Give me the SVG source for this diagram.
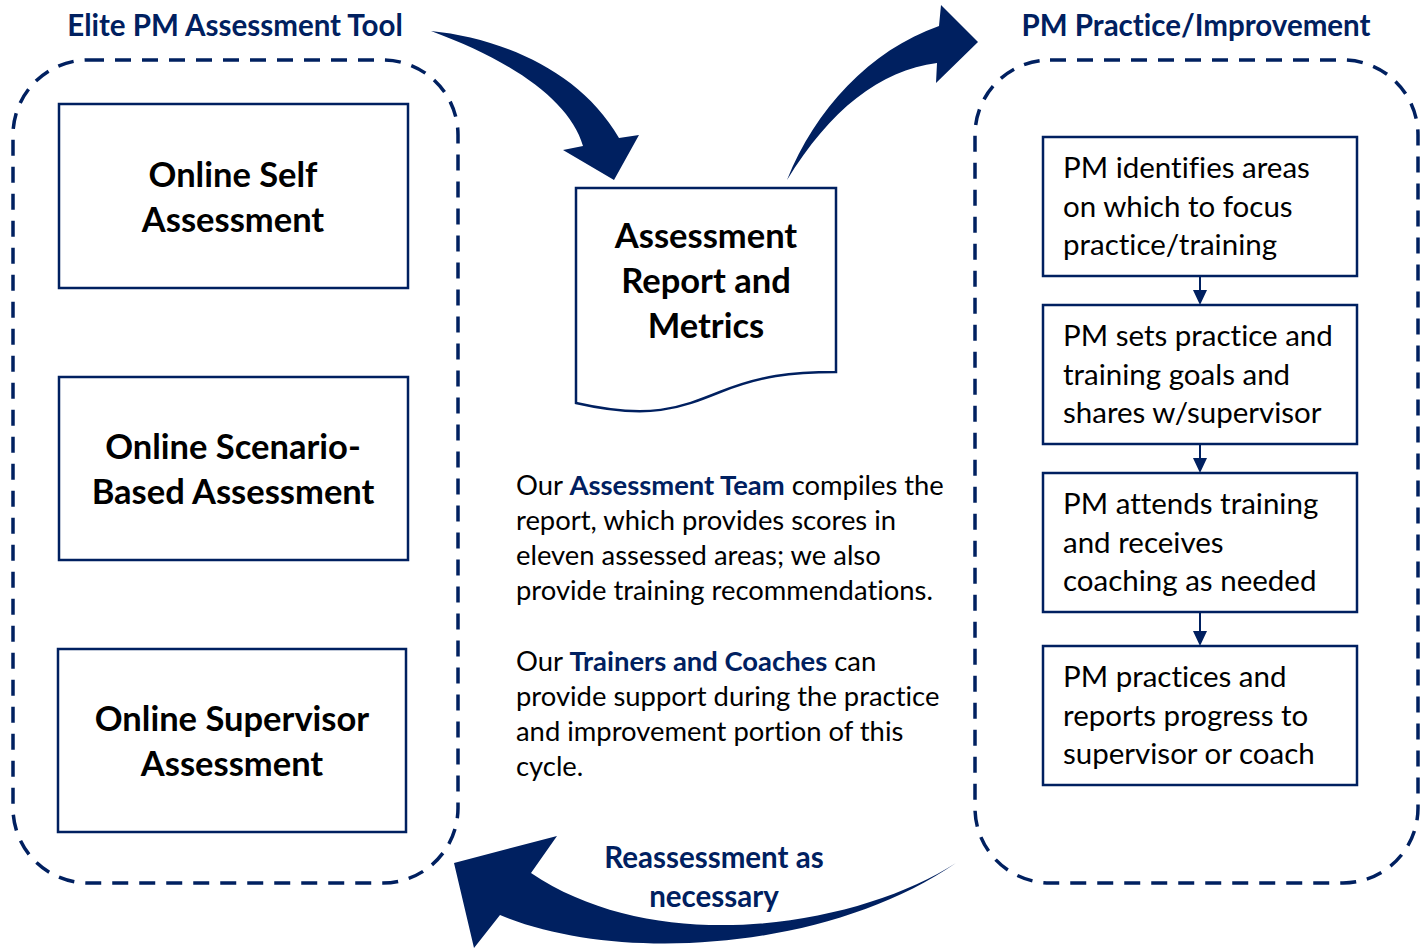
<svg xmlns="http://www.w3.org/2000/svg" width="1427" height="949" viewBox="0 0 1427 949">
<style>
text{font-variant-ligatures:none}
.dash{fill:none;stroke:#002060;stroke-width:3.5;stroke-dasharray:16 11}
.box{fill:#fff;stroke:#002060;stroke-width:2.5}
.arr{fill:#002060;stroke:none}
.title{font-family:Lato,"Open Sans",sans-serif;font-weight:bold;font-size:29.5px;fill:#002060}
.big{font-family:Lato,"Open Sans",sans-serif;font-weight:bold;font-size:34.5px;fill:#000;text-anchor:middle}
.step{font-family:Lato,"Open Sans",sans-serif;font-size:29.5px;fill:#000}
.para{font-family:Lato,"Open Sans",sans-serif;font-size:27.4px;fill:#000}
.hl{font-weight:bold;fill:#002060}
.sm{stroke:#002060;stroke-width:2;fill:none}
.smh{fill:#002060}
</style>
<rect width="1427" height="949" fill="#fff"/>
<g id="group-left">
<rect class="dash" x="13" y="60" width="445" height="823" rx="75"/>
<text class="title" x="235" y="36" text-anchor="middle">Elite PM Assessment Tool</text>
</g>
<g id="group-right">
<rect class="dash" x="975" y="60" width="443" height="823" rx="75"/>
<text class="title" x="1196" y="36" text-anchor="middle">PM Practice/Improvement</text>
</g>
<g id="node-self">
<rect class="box" x="59" y="104" width="349" height="184"/>
<text class="big" x="233" y="187">Online Self</text>
<text class="big" x="233" y="232">Assessment</text>
</g>
<g id="node-scenario">
<rect class="box" x="59" y="377" width="349" height="183"/>
<text class="big" x="233" y="459">Online Scenario-</text>
<text class="big" x="233" y="504">Based Assessment</text>
</g>
<g id="node-supervisor">
<rect class="box" x="58" y="649" width="348" height="183"/>
<text class="big" x="232" y="731">Online Supervisor</text>
<text class="big" x="232" y="776">Assessment</text>
</g>
<g id="node-report">
<path class="box" d="M576,188 H836 V372 C790,372 760,376 720,392 C680,408 650,420 576,403 Z"/>
<text class="big" x="706" y="248">Assessment</text>
<text class="big" x="706" y="293">Report and</text>
<text class="big" x="706" y="338">Metrics</text>
</g>
<g id="text-middle">
<text class="para" x="516" y="495">Our <tspan class="hl">Assessment Team</tspan> compiles the</text>
<text class="para" x="516" y="530">report, which provides scores in</text>
<text class="para" x="516" y="565">eleven assessed areas; we also</text>
<text class="para" x="516" y="600">provide training recommendations.</text>
<text class="para" x="516" y="671">Our <tspan class="hl">Trainers and Coaches</tspan> can</text>
<text class="para" x="516" y="706">provide support during the practice</text>
<text class="para" x="516" y="741">and improvement portion of this</text>
<text class="para" x="516" y="776">cycle.</text>
</g>
<g id="node-step1">
<rect class="box" x="1043" y="137" width="314" height="139"/>
<text class="step" x="1063" y="178">PM identifies areas</text>
<text class="step" x="1063" y="217">on which to focus</text>
<text class="step" x="1063" y="255">practice/training</text>
</g>
<g id="node-step2">
<rect class="box" x="1043" y="305" width="314" height="139"/>
<text class="step" x="1063" y="346">PM sets practice and</text>
<text class="step" x="1063" y="385">training goals and</text>
<text class="step" x="1063" y="423">shares w/supervisor</text>
</g>
<g id="node-step3">
<rect class="box" x="1043" y="473" width="314" height="139"/>
<text class="step" x="1063" y="514">PM attends training</text>
<text class="step" x="1063" y="553">and receives</text>
<text class="step" x="1063" y="591">coaching as needed</text>
</g>
<g id="node-step4">
<rect class="box" x="1043" y="646" width="314" height="139"/>
<text class="step" x="1063" y="687">PM practices and</text>
<text class="step" x="1063" y="726">reports progress to</text>
<text class="step" x="1063" y="764">supervisor or coach</text>
</g>
<g id="connectors">
<path class="arr" d="M431,31 C500,38 580,70 619,138 L639,135 L614,180 L563,150 L583,146 C570,100 510,60 431,31 Z"/>
<path class="arr" d="M787,180 C815,110 870,50 939,26 L941,5 L978,42 L936,83 L937,63 C880,70 830,110 787,180 Z"/>
<path class="arr" d="M956,863 C860,925 660,960 531,873 L557,836 L454,863 L474,948 L500,915 C620,965 830,950 956,863 Z"/>
<line class="sm" x1="1200" y1="276" x2="1200" y2="292"/>
<path class="smh" d="M1193,290 L1207,290 L1200,305 Z"/>
<line class="sm" x1="1200" y1="444" x2="1200" y2="460"/>
<path class="smh" d="M1193,458 L1207,458 L1200,473 Z"/>
<line class="sm" x1="1200" y1="612" x2="1200" y2="633"/>
<path class="smh" d="M1193,631 L1207,631 L1200,646 Z"/>
<text class="title" x="714" y="868" text-anchor="middle">Reassessment as</text>
<text class="title" x="714" y="907" text-anchor="middle">necessary</text>
</g>
</svg>
